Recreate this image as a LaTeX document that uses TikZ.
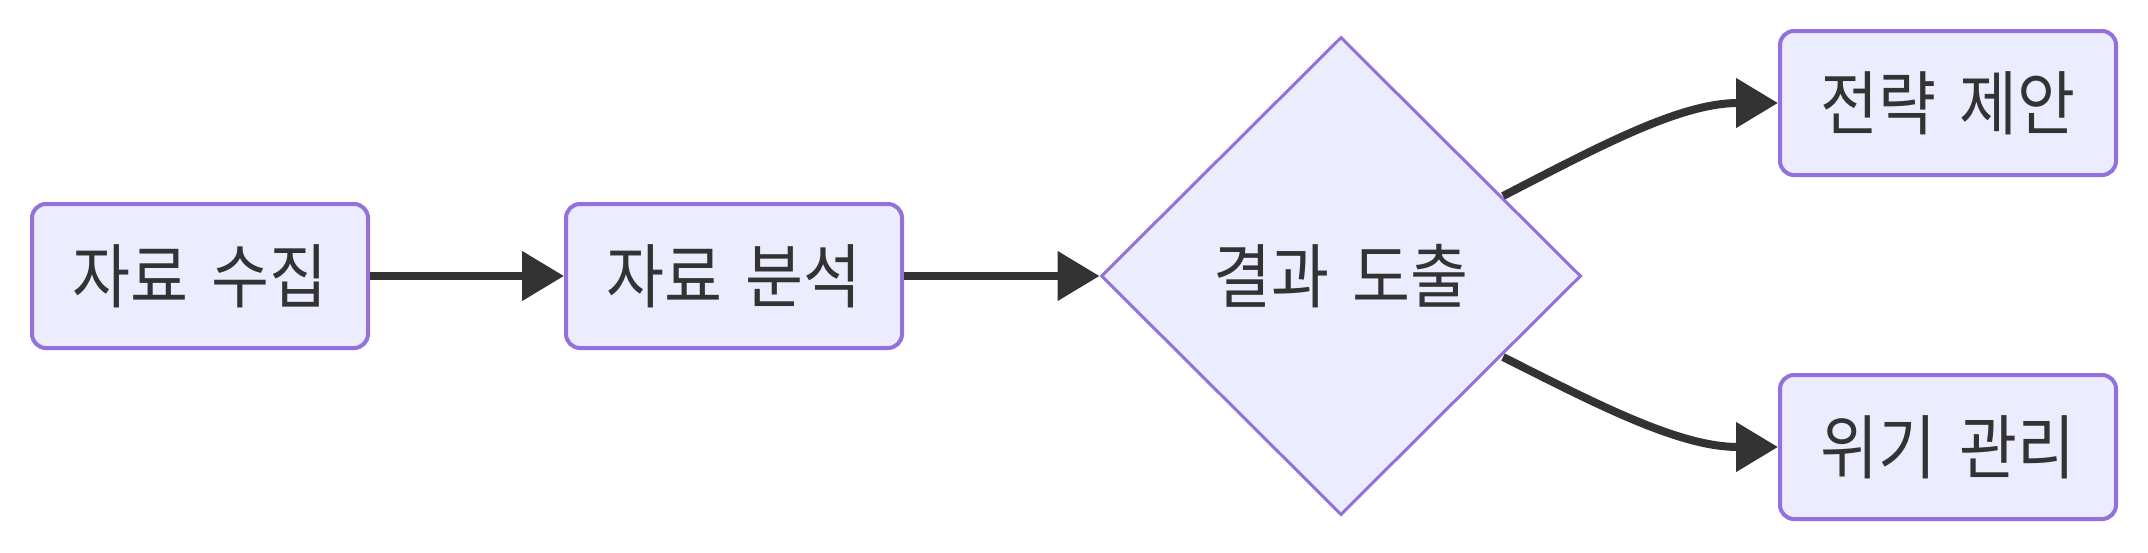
\documentclass[tikz,border=0pt]{standalone}
\usepackage{fontspec}
\setmainfont[FakeStretch=0.9,WordSpace=1.6]{Noto Sans CJK KR}
\usepackage{xcolor}
\usetikzlibrary{positioning,arrows.meta,shapes.geometric}

\begin{document}
\begin{tikzpicture}[x=0.5pt,y=-0.5pt]
					\definecolor{mmfill}{RGB}{236,236,255}
					\definecolor{mmline}{RGB}{147,112,219}
					\definecolor{mmdark}{RGB}{51,51,51}
					\tikzset{
						stepbox/.style={
							rectangle,
							rounded corners=7pt,
							draw=mmline,
							fill=mmfill,
							line width=2pt,
							minimum width=168pt,
							minimum height=72pt,
							inner sep=0pt,
							text=mmdark,
							font=\fontsize{35}{42}\selectfont
						},
						decide/.style={
							diamond,
							draw=mmline,
							fill=mmfill,
							line width=1.5pt,
							minimum width=240pt,
							minimum height=239pt,
							inner sep=0pt,
							text=mmdark,
							font=\fontsize{35}{42}\selectfont
						},
						flow/.style={
							draw=mmdark,
							line width=4pt,
							-{Triangle[length=21pt,width=24pt]}
						}
					}
					\useasboundingbox (0,0) rectangle (2148,552);
					
					% ======= Hàng chính =======
					\node[stepbox] (collect) at (200,276) {자료 수집};
					\node[stepbox] (analyze) at (734,276) {자료 분석};
					\node[decide] (result) at (1341,276) {결과 도출};
					
					% ======= Nhánh phải =======
					\node[stepbox] (strategy) at (1948,103) {전략 제안};
					\node[stepbox] (crisis) at (1948,447) {위기 관리};
					
					\coordinate (rtop) at (1503,196);
					\coordinate (rbot) at (1503,357);
					
					\draw[flow] (collect.east) -- (analyze.west);
					\draw[flow] (analyze.east) -- (result.west);
					\draw[flow] (rtop) .. controls (1600,146) and (1680,103) .. (strategy.west);
					\draw[flow] (rbot) .. controls (1600,406) and (1680,447) .. (crisis.west);
				\end{tikzpicture}
\end{document}
